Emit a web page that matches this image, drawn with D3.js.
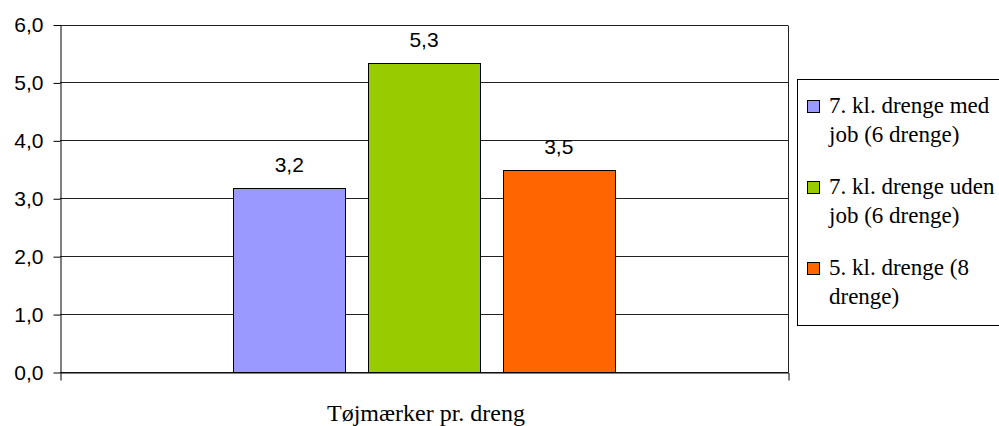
<!DOCTYPE html>
<html>
<head>
<meta charset="utf-8">
<script src="https://cdn.jsdelivr.net/npm/d3@7"></script>
<style>
  html, body { margin: 0; padding: 0; background: #fff; }
  svg { display: block; }
  svg#chart text.sans, svg#chart text.sans tspan { font-family: 'Liberation Sans' !important; }
  svg#chart text.serif, svg#chart text.serif tspan { font-family: 'Liberation Serif' !important; }
</style>
</head>
<body>
<svg id="chart" width="999" height="426"></svg>
<script>
// ---- data ----
const categories = ["Tøjmærker pr. dreng"];
const seriesNames = ["7. kl. drenge med job (6 drenge)", "7. kl. drenge uden job (6 drenge)", "5. kl. drenge (8 drenge)"];
const legendLines = [["7. kl. drenge med", "job (6 drenge)"], ["7. kl. drenge uden", "job (6 drenge)"], ["5. kl. drenge (8", "drenge)"]];
const seriesValues = [3.17, 5.33, 3.48];
const seriesColors = ["#9999FF", "#99CC00", "#FF6600"];
const yTicks = [0, 1, 2, 3, 4, 5, 6];

// ---- layout ----
const plot = { left: 60, right: 788, top: 24.5, bottom: 372 };
const svg = d3.select("#chart");
const locale = d3.formatLocale({ decimal: ",", thousands: ".", grouping: [3], currency: ["", " kr"] });
const fmt = locale.format(".1f");

const x0 = d3.scaleBand().domain(categories).range([plot.left, plot.right]).paddingInner(0).paddingOuter(0.455);
const x1 = d3.scaleBand().domain(seriesNames).range([0, x0.bandwidth()]).paddingInner(0.171).paddingOuter(0);
const y = d3.scaleLinear().domain([0, 6]).range([plot.bottom, plot.top]);

// gridlines
svg.append("g").selectAll("line").data(yTicks).join("line")
  .attr("x1", plot.left).attr("x2", plot.right)
  .attr("y1", d => Math.round(y(d)) + 0.5).attr("y2", d => Math.round(y(d)) + 0.5)
  .attr("stroke", "#222").attr("stroke-width", 1);

// right border
svg.append("line")
  .attr("x1", plot.right + 0.5).attr("x2", plot.right + 0.5)
  .attr("y1", Math.round(plot.top) + 0.5).attr("y2", plot.bottom + 0.5)
  .attr("stroke", "#222");

// bars
const cat = categories[0];
svg.append("g").selectAll("rect").data(seriesValues).join("rect")
  .attr("x", (d, i) => Math.round(x0(cat) + x1(seriesNames[i])) + 0.5)
  .attr("y", d => Math.round(y(d)) + 0.5)
  .attr("width", Math.round(x1.bandwidth()))
  .attr("height", d => Math.round(y(0)) - Math.round(y(d)))
  .attr("fill", (d, i) => seriesColors[i])
  .attr("stroke", "#000").attr("stroke-width", 1);

// value labels
svg.append("g").selectAll("text").data(seriesValues).join("text")
  .attr("class", "sans")
  .attr("x", (d, i) => x0(cat) + x1(seriesNames[i]) + x1.bandwidth() / 2)
  .attr("y", d => y(d) - 16)
  .attr("text-anchor", "middle")
  .attr("font-size", 21)
  .attr("fill", "#000")
  .text(d => fmt(d));

// y axis
const yAxis = svg.append("g")
  .attr("transform", `translate(${plot.left + 0.5},0.5)`)
  .call(d3.axisLeft(y).tickValues(yTicks).tickSize(7).tickSizeOuter(0).tickPadding(10).tickFormat(fmt));
yAxis.attr("font-family", "Liberation Sans").attr("font-size", 21);
yAxis.selectAll("line").attr("stroke", "#000");
yAxis.select(".domain").attr("stroke", "#000");
yAxis.selectAll("text").attr("class", "sans").attr("fill", "#000");

// x axis
const xAxis = svg.append("g")
  .attr("transform", `translate(0.5,${Math.round(plot.bottom) + 0.5})`)
  .call(d3.axisBottom(x0).tickValues([]).tickSizeOuter(8));
xAxis.select(".domain").attr("stroke", "#000");

// x axis title
svg.append("text")
  .attr("class", "serif")
  .attr("x", 426).attr("y", 421)
  .attr("text-anchor", "middle")
  .attr("font-size", 24)
  .attr("fill", "#000")
  .text(categories[0]);

// legend
const lg = svg.append("g");
lg.append("rect")
  .attr("x", 797.5).attr("y", 79.5).attr("width", 230).attr("height", 246)
  .attr("fill", "#fff").attr("stroke", "#000");
const items = lg.selectAll("g.item").data(seriesNames).join("g").attr("class", "item")
  .attr("transform", (d, i) => `translate(0,${i * 81})`);
items.append("rect")
  .attr("x", 807.5).attr("y", 100.5).attr("width", 12).attr("height", 12)
  .attr("fill", (d, i) => seriesColors[i]).attr("stroke", "#000");
items.append("text")
  .attr("class", "serif")
  .attr("font-size", 23)
  .attr("fill", "#000")
  .selectAll("tspan").data((d, i) => legendLines[i]).join("tspan")
  .attr("x", 829).attr("y", (d, j) => 113 + j * 29)
  .text(d => d);
</script>
</body>
</html>
